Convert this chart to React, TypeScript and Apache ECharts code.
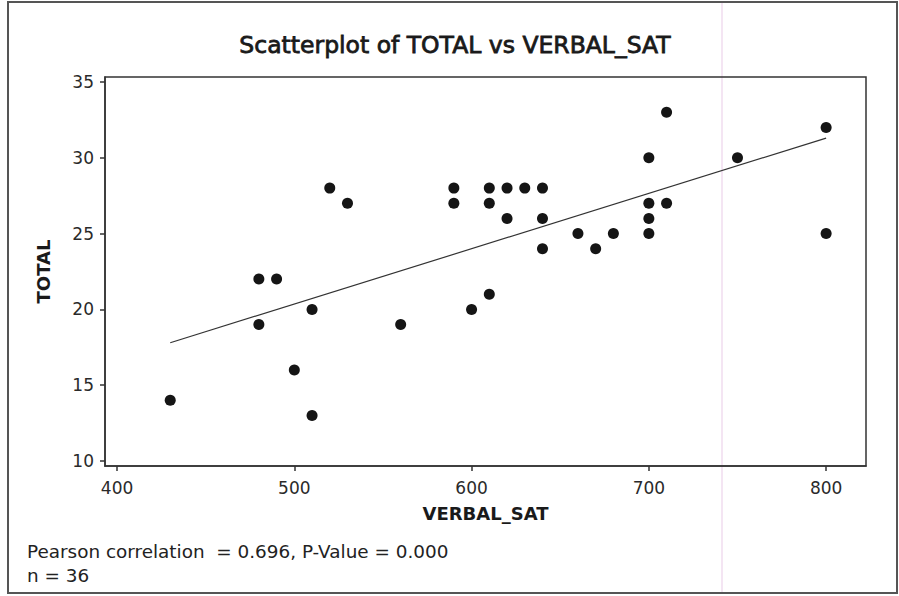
import React, { useEffect, useRef } from 'react';
import * as echarts from 'echarts';

const verbalSat = [430, 480, 480, 490, 500, 510, 510, 520, 530, 560, 590, 590, 600, 610, 610, 610, 620, 620, 630, 640, 640, 640, 660, 670, 680, 700, 700, 700, 700, 710, 710, 750, 800, 800];
const total = [14, 22, 19, 22, 16, 20, 13, 28, 27, 19, 28, 27, 20, 28, 27, 21, 28, 26, 28, 28, 26, 24, 25, 24, 25, 30, 27, 26, 25, 33, 27, 30, 32, 25];
const xTicks = [400, 500, 600, 700, 800];
const yTicks = [10, 15, 20, 25, 30, 35];
const fitX = [430, 800];
const fitY = [17.8, 31.3];

const titleText = 'Scatterplot of TOTAL vs VERBAL_SAT';
const statText = 'Pearson correlation  = 0.696, P-Value = 0.000';
const nText = 'n = 36';

const FONT = '"DejaVu Sans", Verdana, sans-serif';

export default function App() {
  const ref = useRef<HTMLDivElement>(null);
  useEffect(() => {
    if (!ref.current) return;
    const chart = echarts.init(ref.current, undefined, { renderer: 'svg' });
    const points = verbalSat.map((x, i) => [x, total[i]]);
    const fit = fitX.map((x, i) => [x, fitY[i]]);
    chart.setOption({
      animation: false,
      backgroundColor: '#ffffff',
      grid: {
        left: 105,
        right: 33,
        top: 77,
        bottom: 130,
        show: true,
        borderColor: '#333',
        borderWidth: 1.5,
        backgroundColor: 'transparent',
      },
      xAxis: {
        type: 'value',
        min: 393.2,
        max: 822.5,
        name: 'VERBAL_SAT',
        nameLocation: 'middle',
        nameGap: 38,
        nameTextStyle: { fontFamily: FONT, fontSize: 18, fontWeight: 'bold', color: '#1a1a1a' },
        axisLine: { show: true, onZero: false, lineStyle: { color: '#333', width: 1.5 } },
        axisTick: { show: true, inside: false, length: 5, customValues: xTicks, lineStyle: { color: '#333', width: 1.5 } },
        axisLabel: { customValues: xTicks, margin: 13, fontFamily: FONT, fontSize: 17, color: '#2a2a2a' },
        splitLine: { show: false },
      },
      yAxis: {
        type: 'value',
        min: 9.67,
        max: 35.33,
        name: 'TOTAL',
        nameLocation: 'middle',
        nameGap: 53,
        nameRotate: 90,
        nameTextStyle: { fontFamily: FONT, fontSize: 18, fontWeight: 'bold', color: '#1a1a1a' },
        axisLine: { show: true, onZero: false, lineStyle: { color: '#333', width: 1.5 } },
        axisTick: { show: true, inside: false, length: 5, customValues: yTicks, lineStyle: { color: '#333', width: 1.5 } },
        axisLabel: { customValues: yTicks, margin: 11, fontFamily: FONT, fontSize: 17, color: '#2a2a2a' },
        splitLine: { show: false },
      },
      series: [
        {
          type: 'line',
          data: fit,
          showSymbol: false,
          symbol: 'none',
          lineStyle: { color: '#333', width: 1.2 },
          silent: true,
          z: 2,
        },
        {
          type: 'scatter',
          data: points,
          symbol: 'circle',
          symbolSize: 11,
          itemStyle: { color: '#151515', opacity: 1 },
          z: 3,
        },
      ],
      graphic: [
        {
          type: 'rect',
          shape: { x: 8, y: 2, width: 889, height: 591 },
          style: { fill: 'none', stroke: '#555', lineWidth: 2 },
          silent: true,
        },
        {
          type: 'line',
          shape: { x1: 722, y1: 3, x2: 722, y2: 592 },
          style: { stroke: '#f1dcef', lineWidth: 1.5 },
          silent: true,
          z: -1,
        },
        {
          type: 'text',
          x: 455,
          y: 45,
          style: {
            text: titleText,
            fontFamily: FONT,
            fontSize: 23.5,
            fontWeight: 'normal',
            fill: '#1a1a1a',
            stroke: '#1a1a1a',
            lineWidth: 0.8,
            textAlign: 'center',
            textVerticalAlign: 'middle',
          },
        },
        {
          type: 'text',
          x: 27,
          y: 551,
          style: {
            text: statText,
            fontFamily: FONT,
            fontSize: 18.4,
            fill: '#222',
            textAlign: 'left',
            textVerticalAlign: 'middle',
          },
        },
        {
          type: 'text',
          x: 27,
          y: 575,
          style: {
            text: nText,
            fontFamily: FONT,
            fontSize: 18.4,
            fill: '#222',
            textAlign: 'left',
            textVerticalAlign: 'middle',
          },
        },
      ],
    });
    return () => chart.dispose();
  }, []);
  return <div ref={ref} style={{ position: 'fixed', left: 0, top: 0, width: 899, height: 596 }} />;
}
